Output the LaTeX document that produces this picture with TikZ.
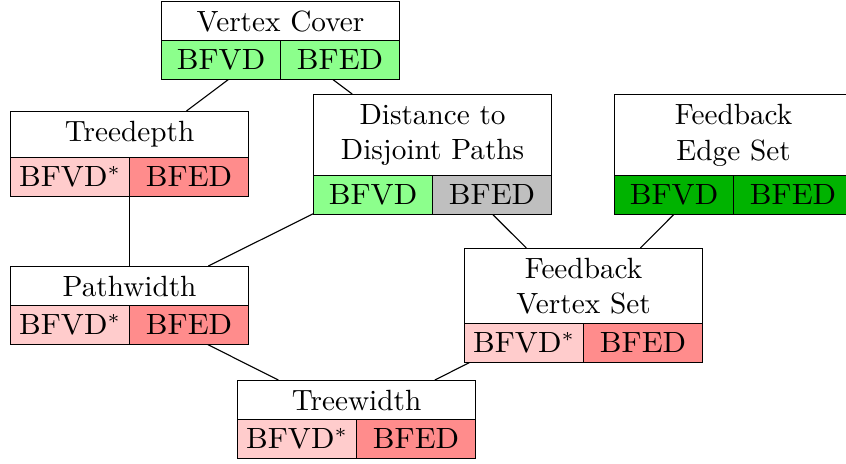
\documentclass[tikz,border=0pt]{standalone}
\usepackage{graphicx}
\usetikzlibrary{fit}

% one drawing unit
\newcommand\pxu{0.3587pt}

\definecolor{solvedlight}{RGB}{140,255,140}
\definecolor{solveddark}{RGB}{0,179,0}
\definecolor{hardlight}{RGB}{255,204,204}
\definecolor{hard}{RGB}{255,140,140}
\definecolor{openq}{RGB}{191,191,191}

\tikzset{
  every node/.style={font=\fontsize{10.5}{12.8}\selectfont},
  ptitle/.style={draw, fill=white, anchor=north west, minimum width=238*\pxu,
                 align=center, inner sep=0pt},
  pcell/.style={draw, anchor=north west, minimum width=119*\pxu,
                minimum height=38.5*\pxu, inner sep=0pt},
  pgroup/.style={inner sep=0pt, outer sep=0pt},
  link/.style={draw, line width=0.4pt}
}

% cell labels are set a little wider than the titles
\newcommand\celltext[1]{\scalebox{1.05}[1]{#1}}

% name, x, y, title height, title, left text, left fill, right text, right fill
\newcommand\paramnode[9]{%
  \node[ptitle, minimum height=#4*\pxu] (#1-t) at (#2,#3) {#5};
  \node[pcell, fill=#7] (#1-l) at (#2,#3+#4) {\celltext{#6}};
  \node[pcell, fill=#9] (#1-r) at (#2+119,#3+#4) {\celltext{#8}};
  \node[pgroup, fit=(#1-t)(#1-l)(#1-r)] (#1) {};
}

\begin{document}
\begin{tikzpicture}[x=\pxu, y=-\pxu]
  \clip (0,0) rectangle (846,463);

  \paramnode{vc}{161}{1}{39}{Vertex Cover}{BFVD}{solvedlight}{BFED}{solvedlight}
  \paramnode{td}{10}{111}{46}{Treedepth}{BFVD$^*$}{hardlight}{BFED}{hard}
  \paramnode{ddp}{313}{94}{81}{Distance to\\Disjoint Paths}{BFVD}{solvedlight}{BFED}{openq}
  \paramnode{fes}{614}{94}{81}{Feedback\\Edge Set}{BFVD}{solveddark}{BFED}{solveddark}
  \paramnode{pw}{10}{266}{39}{Pathwidth}{BFVD$^*$}{hardlight}{BFED}{hard}
  \paramnode{fvs}{464}{248}{75}{Feedback\\Vertex Set}{BFVD$^*$}{hardlight}{BFED}{hard}
  \paramnode{tw}{237}{380}{39}{Treewidth}{BFVD$^*$}{hardlight}{BFED}{hard}

  \path[link] (vc) -- (td);
  \path[link] (vc) -- (ddp);
  \path[link] (td) -- (pw);
  \path[link] (ddp) -- (pw);
  \path[link] (ddp) -- (fvs);
  \path[link] (fes) -- (fvs);
  \path[link] (pw) -- (tw);
  \path[link] (fvs) -- (tw);
\end{tikzpicture}
\end{document}
